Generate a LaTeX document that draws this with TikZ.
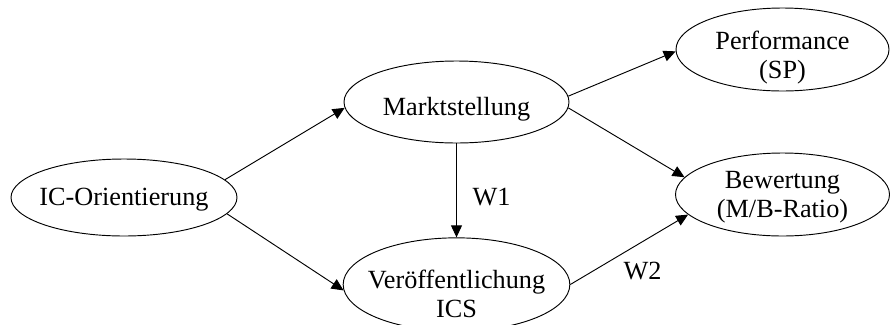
\documentclass[tikz,border=0pt]{standalone}
\usepackage{fontspec}
\setmainfont{Liberation Serif}
\usetikzlibrary{shapes.geometric,
positioning,
arrows.meta}
\tikzset{
  % ellipse with its text kept out of the size
  construct/.style={
    draw, ellipse, line width=0.8pt, align=center,
    inner xsep=-1cm, inner ysep=0pt,
    font=\fontsize{22.4}{25.1}\selectfont
  },
  % move the (last) text line below the middle of the ellipse
  text low/.style={text height=#1, text depth=0pt},
  % effect arrow
  link/.style={-{Triangle[length=0.36cm,width=0.33cm]}, line width=0.8pt},
}

\begin{document}
\begin{tikzpicture}[on grid]
            \useasboundingbox (0,0) rectangle (26.7,-9.72);
            \node[construct,minimum width=6.78cm,minimum height=2.31cm,text low=0.45cm] (ic) at (3.72,-5.925) {IC-Orientierung};
            \node[construct,minimum width=6.75cm,minimum height=2.46cm,text low=0.78cm,above right=2.865cm and 9.975cm of ic] (markt) {Marktstellung};
            \node[construct,minimum width=6.8cm,minimum height=2.43cm,text low=1.98cm,below=5.475cm of markt] (veroeff) {Veröffentlichung\\ICS};
            \node[construct,minimum width=6.39cm,minimum height=2.49cm,text low=1.74cm,above right=1.575cm and 9.78cm of markt] (perf) {Performance\\(SP)};
            \node[construct,minimum width=6.42cm,minimum height=2.49cm,text low=1.38cm,below=4.35cm of perf] (bew) {Bewertung\\(M/B-Ratio)};
            \node[font=\fontsize{22.4}{25.1}\selectfont] (w1) at (14.745,-5.91) {W1};
            \node[font=\fontsize{22.4}{25.1}\selectfont] (w2) at (19.275,-8.13) {W2};

            \path [link]
            (ic.10) edge (markt.183)%
            (ic.-9) edge (veroeff.183)%
            (markt.south) edge (veroeff.north)%
            (markt.3) edge (perf.181)%
            (markt.-3) edge (bew.170)%
            (veroeff.0) edge (bew.192)%
            ;
        \end{tikzpicture}
\end{document}
